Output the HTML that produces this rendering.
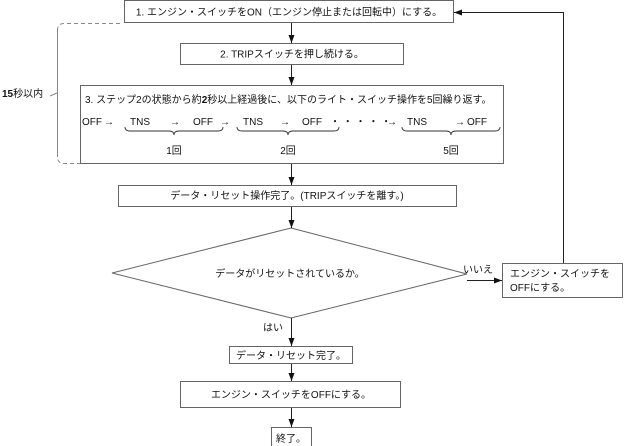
<!DOCTYPE html>
<html><head><meta charset="utf-8"><style>
html,body{margin:0;padding:0;background:#fff;}
svg{display:block;}
text{font-family:"Liberation Sans","Noto Sans CJK JP",sans-serif;font-size:10px;fill:#111;}
</style></head><body>
<svg width="624" height="446" viewBox="0 0 624 446" xmlns="http://www.w3.org/2000/svg">
<defs><marker id="a" markerWidth="8" markerHeight="6" refX="8" refY="3" orient="auto" markerUnits="userSpaceOnUse"><path d="M0,0 L8,3 L0,6z" fill="#111"/></marker></defs>
<g fill="#fff" stroke="#666" stroke-width="1">
<rect x="124.5" y="0.5" width="329" height="22"/>
<rect x="180.5" y="43.5" width="223" height="21"/>
<rect x="80.5" y="85.5" width="423" height="78"/>
<rect x="118.5" y="185.5" width="338" height="21"/>
<polygon points="291,228 467,274 291,318 112,273"/>
<rect x="502.5" y="263.5" width="120" height="34"/>
<rect x="229.5" y="346.5" width="123" height="17"/>
<rect x="180.5" y="381.5" width="220" height="26"/>
<rect x="271.5" y="427.5" width="40" height="22"/>
</g>
<g stroke="#222" stroke-width="1" fill="none">
<line x1="291.5" y1="23" x2="291.5" y2="43" marker-end="url(#a)"/>
<line x1="291.5" y1="65" x2="291.5" y2="85" marker-end="url(#a)"/>
<line x1="291.5" y1="164" x2="291.5" y2="185" marker-end="url(#a)"/>
<line x1="291.5" y1="207" x2="291.5" y2="228" marker-end="url(#a)"/>
<line x1="291.5" y1="318" x2="291.5" y2="346" marker-end="url(#a)"/>
<line x1="291.5" y1="364" x2="291.5" y2="381" marker-end="url(#a)"/>
<line x1="291.5" y1="408" x2="291.5" y2="427" marker-end="url(#a)"/>
<line x1="467" y1="280.5" x2="502" y2="280.5" marker-end="url(#a)"/>
<polyline points="563.5,263 563.5,12.5 454,12.5" marker-end="url(#a)"/>
</g>
<g stroke="#888" fill="none">
<path d="M120,23.5 L64,23.5 Q57.5,23.5 57.5,30 L57.5,157 Q57.5,163.5 64,163.5 L80,163.5" stroke-dasharray="4,3"/>
<path d="M57.5,30 L57.5,157" />
<line x1="50" y1="96" x2="57" y2="93"/>
</g>
<g stroke="#333" fill="none" stroke-width="0.9">
<path d="M125,127 q0,4 5,4 h39 q5,0 5,4 q0,-4 5,-4 h39 q5,0 5,-4"/>
<path d="M237,127 q0,4 5,4 h41 q5,0 5,4 q0,-4 5,-4 h41 q5,0 5,-4"/>
<path d="M402,127 q0,4 5,4 h39 q5,0 5,4 q0,-4 5,-4 h39 q5,0 5,-4"/>
</g>
<text x="289" y="15.5" text-anchor="middle">1. エンジン・スイッチをON（エンジン停止または回転中）にする。</text>
<text x="292" y="57.5" text-anchor="middle">2. TRIPスイッチを押し続ける。</text>
<text x="85" y="103">3. ステップ2の状態から約<tspan font-weight="bold">2</tspan>秒以上経過後に、以下のライト・スイッチ操作を5回繰り返す。</text>
<text y="125"><tspan x="82">OFF</tspan><tspan x="104">→</tspan><tspan x="130">TNS</tspan><tspan x="170">→</tspan><tspan x="193">OFF</tspan><tspan x="220">→</tspan><tspan x="243">TNS</tspan><tspan x="280">→</tspan><tspan x="302">OFF</tspan><tspan x="330">・ ・ ・ ・ ・</tspan><tspan x="387">→</tspan><tspan x="407">TNS</tspan><tspan x="455">→</tspan><tspan x="467">OFF</tspan></text>
<text y="154" text-anchor="middle"><tspan x="174">1回</tspan><tspan x="288">2回</tspan><tspan x="451">5回</tspan></text>
<text x="2" y="97"><tspan font-weight="bold">15</tspan>秒以内</text>
<text x="287" y="199" text-anchor="middle">データ・リセット操作完了。(TRIPスイッチを離す。)</text>
<text x="290" y="277" text-anchor="middle">データがリセットされているか。</text>
<text x="463" y="273">いいえ</text>
<text x="510" y="277">エンジン・スイッチを</text>
<text x="510" y="291">OFFにする。</text>
<text x="263" y="331">はい</text>
<text x="291" y="359" text-anchor="middle">データ・リセット完了。</text>
<text x="291" y="398" text-anchor="middle">エンジン・スイッチをOFFにする。</text>
<text x="276" y="442">終了。</text>
</svg>
</body></html>
